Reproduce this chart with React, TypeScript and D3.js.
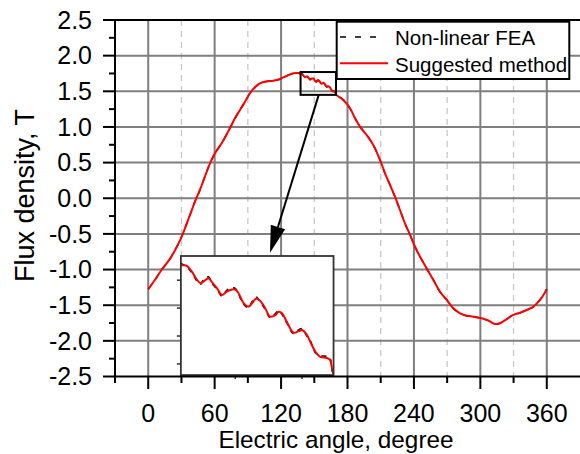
import React from "react";
import * as d3 from "d3";

// electric angle, degree
const angles = [
  0, 6, 12, 19.6, 24, 28.6, 33.2, 37.7, 42.2, 46.7, 51.2, 55.8, 60.3, 66.3, 73.8, 78.3, 82.9, 87.4, 91.9, 96.4,
  100.9, 107, 113, 119, 125, 131, 135.5,
  137.8, 138.9, 139.9, 141, 141.7, 142.3, 143.4, 144.1, 145.2, 146.2, 147.2, 148.3, 149, 149.7, 150.7, 151.8,
  152.5, 153.4, 154.2, 155.3, 156.3, 157.4, 158.1, 158.8, 159.8, 161.2, 162.3, 163, 164, 164.7, 165.8, 166.8,
  168.2, 168.9, 169.6,
  176.2, 182.3, 186.8, 191.3, 197.3, 203.3, 209.4, 213.9, 218.4, 222.9, 227.4, 231.9, 236.5, 241, 245.5, 251.5,
  257.5, 263.6, 269.6, 275.6, 281.7, 287.7, 293.7, 301.2, 307.2, 313.3, 317.8, 323.8, 329.8, 335.9, 341.9, 347.9,
  353.9, 360,
];

// flux density, T
const suggested = [
  -1.277, -1.147, -1.006, -0.85, -0.735, -0.595, -0.422, -0.235, -0.048, 0.116, 0.303, 0.49, 0.63, 0.771, 0.981,
  1.121, 1.238, 1.354, 1.472, 1.556, 1.612, 1.64, 1.649, 1.673, 1.715, 1.752, 1.757,
  1.746, 1.743, 1.728, 1.706, 1.697, 1.701, 1.71, 1.7, 1.683, 1.665, 1.674, 1.68, 1.68, 1.67, 1.644, 1.634, 1.643,
  1.656, 1.65, 1.629, 1.607, 1.611, 1.62, 1.616, 1.593, 1.564, 1.568, 1.571, 1.558, 1.54, 1.513, 1.499, 1.496,
  1.49, 1.455,
  1.378, 1.262, 1.121, 1.004, 0.887, 0.747, 0.536, 0.35, 0.186, 0.022, -0.165, -0.352, -0.515, -0.68, -0.82,
  -0.983, -1.147, -1.311, -1.427, -1.544, -1.614, -1.647, -1.661, -1.684, -1.717, -1.764, -1.754, -1.694, -1.637,
  -1.605, -1.567, -1.521, -1.427, -1.28,
];

const fea = [
  -1.272, -1.15, -1.003, -0.853, -0.731, -0.599, -0.418, -0.238, -0.044, 0.112, 0.307, 0.486, 0.634, 0.768, 0.985,
  1.117, 1.242, 1.35, 1.476, 1.552, 1.615, 1.637, 1.652, 1.67, 1.718, 1.749, 1.76,
  1.749, 1.74, 1.725, 1.702, 1.694, 1.705, 1.714, 1.697, 1.68, 1.662, 1.678, 1.684, 1.683, 1.667, 1.641, 1.631,
  1.647, 1.66, 1.647, 1.626, 1.604, 1.615, 1.624, 1.613, 1.59, 1.561, 1.572, 1.575, 1.555, 1.543, 1.51, 1.502,
  1.5, 1.494, 1.452,
  1.382, 1.258, 1.125, 1.0, 0.891, 0.743, 0.54, 0.346, 0.19, 0.018, -0.161, -0.356, -0.511, -0.684, -0.816,
  -0.987, -1.143, -1.315, -1.423, -1.548, -1.61, -1.651, -1.657, -1.688, -1.713, -1.768, -1.75, -1.698, -1.633,
  -1.609, -1.563, -1.525, -1.423, -1.276,
];

const xTicks = [0, 60, 120, 180, 240, 300, 360];
const xMinor = [-30, 30, 90, 150, 210, 270, 330];
const yTicks = [-2.5, -2.0, -1.5, -1.0, -0.5, 0.0, 0.5, 1.0, 1.5, 2.0, 2.5];
const yMinor = [-2.25, -1.75, -1.25, -0.75, -0.25, 0.25, 0.75, 1.25, 1.75, 2.25];

// zoom window (data units) and inset ticks
const zoomX = [137.6, 169.6];
const zoomY = [1.45, 1.77];
const insetXTicks = [149, 163];
const insetYTicks = [1.48, 1.555, 1.63, 1.705];

const W = 580;
const H = 454;
const font = "'Liberation Sans', Arial, Helvetica, sans-serif";

const App = () => {
  const x = d3.scaleLinear().domain([-30, 390]).range([115, 580]);
  const y = d3.scaleLinear().domain([-2.5, 2.5]).range([376.5, 20]);

  const pts = (vals: number[]) => angles.map((a, i) => [a, vals[i]] as [number, number]);

  const line = d3
    .line<[number, number]>()
    .x((d) => x(d[0]))
    .y((d) => y(d[1]))
    .curve(d3.curveCatmullRom.alpha(0.5));

  // inset placement
  const ix0 = x(29.5), ix1 = x(167.4);
  const iy0 = y(-0.81), iy1 = y(-2.48);
  const ixs = d3.scaleLinear().domain(zoomX).range([ix0, ix1]);
  const iys = d3.scaleLinear().domain(zoomY).range([iy1, iy0]);
  const iline = d3
    .line<[number, number]>()
    .x((d) => ixs(d[0]))
    .y((d) => iys(d[1]))
    .curve(d3.curveCatmullRom.alpha(0.5));

  // arrow from zoom box to inset
  const ax0 = x(154), ay0 = y(1.45);
  const ax1 = x(110), ay1 = y(-0.765);
  const ang = Math.atan2(ay1 - ay0, ax1 - ax0);
  const hl = 27, hw = 7.5;
  const bx = ax1 - hl * Math.cos(ang), by = ay1 - hl * Math.sin(ang);
  const head = [
    [ax1, ay1],
    [bx + hw * Math.sin(ang), by - hw * Math.cos(ang)],
    [bx - hw * Math.sin(ang), by + hw * Math.cos(ang)],
  ].map((p) => p.join(",")).join(" ");

  return (
    <svg width={W} height={H} style={{ position: "absolute", left: 0, top: 0, background: "#fff" }} fontFamily={font}>
      <defs>
        <clipPath id="plotClip">
          <rect x={115} y={20} width={465} height={356.5} />
        </clipPath>
        <clipPath id="insetClip">
          <rect x={ix0} y={iy0} width={ix1 - ix0} height={iy1 - iy0} />
        </clipPath>
      </defs>

      {/* grid */}
      {xMinor.filter((v) => v > -30).map((v) => (
        <line key={`gm${v}`} x1={x(v)} x2={x(v)} y1={20} y2={376.5} stroke="#c8c8c8" strokeWidth={1.3} strokeDasharray="6,5" />
      ))}
      {xTicks.map((v) => (
        <line key={`gx${v}`} x1={x(v)} x2={x(v)} y1={20} y2={376.5} stroke="#7f7f7f" strokeWidth={2} />
      ))}
      {yTicks.filter((v) => v > -2.5 && v < 2.5).map((v) => (
        <line key={`gy${v}`} x1={115} x2={580} y1={y(v)} y2={y(v)} stroke="#7f7f7f" strokeWidth={2} />
      ))}

      {/* curves */}
      <g clipPath="url(#plotClip)">
        <path d={line(pts(fea)) || ""} fill="none" stroke="#000" strokeWidth={1.5} strokeDasharray="6,6" />
        <path d={line(pts(suggested)) || ""} fill="none" stroke="#ff0000" strokeWidth={2} />
      </g>

      {/* zoom box */}
      <rect x={x(zoomX[0])} y={y(zoomY[1])} width={x(zoomX[1]) - x(zoomX[0])} height={y(zoomY[0]) - y(zoomY[1])}
        fill="none" stroke="#000" strokeWidth={2} />

      {/* arrow */}
      <line x1={ax0} y1={ay0} x2={bx} y2={by} stroke="#000" strokeWidth={2} />
      <polygon points={head} fill="#000" />

      {/* inset */}
      <rect x={ix0} y={iy0} width={ix1 - ix0} height={iy1 - iy0} fill="#fff" />
      <g clipPath="url(#insetClip)">
        <path d={iline(pts(fea)) || ""} fill="none" stroke="#000" strokeWidth={1.5} strokeDasharray="5,5" />
        <path d={iline(pts(suggested)) || ""} fill="none" stroke="#ff0000" strokeWidth={2} />
      </g>
      {insetYTicks.map((v) => (
        <line key={`iy${v}`} x1={ix0 - 4} x2={ix0} y1={iys(v)} y2={iys(v)} stroke="#333" strokeWidth={1.5} />
      ))}
      {insetXTicks.map((v) => (
        <line key={`ix${v}`} x1={ixs(v)} x2={ixs(v)} y1={iy1} y2={iy1 + 4} stroke="#333" strokeWidth={1.5} />
      ))}
      <rect x={ix0} y={iy0} width={ix1 - ix0} height={iy1 - iy0} fill="none" stroke="#333" strokeWidth={1.8} />

      {/* axes frame */}
      <line x1={115} x2={580} y1={20} y2={20} stroke="#000" strokeWidth={2} />
      <line x1={115} x2={580} y1={376.5} y2={376.5} stroke="#000" strokeWidth={2} />
      <line x1={115} x2={115} y1={19} y2={377.5} stroke="#000" strokeWidth={2} />

      {/* y ticks */}
      {yTicks.map((v) => (
        <g key={`yt${v}`}>
          <line x1={103} x2={115} y1={y(v)} y2={y(v)} stroke="#000" strokeWidth={2} />
          <text x={92} y={y(v)} dy="0.35em" textAnchor="end" fontSize={25} fill="#000">
            {v.toFixed(1)}
          </text>
        </g>
      ))}
      {yMinor.map((v) => (
        <line key={`ym${v}`} x1={109} x2={115} y1={y(v)} y2={y(v)} stroke="#000" strokeWidth={2} />
      ))}

      {/* x ticks */}
      {xTicks.map((v) => (
        <g key={`xt${v}`}>
          <line x1={x(v)} x2={x(v)} y1={376.5} y2={389} stroke="#000" strokeWidth={2} />
          <text x={x(v)} y={422} textAnchor="middle" fontSize={25} fill="#000">
            {v}
          </text>
        </g>
      ))}
      {xMinor.map((v) => (
        <line key={`xm${v}`} x1={x(v)} x2={x(v)} y1={376.5} y2={383} stroke="#000" strokeWidth={2} />
      ))}

      {/* titles */}
      <text x={336} y={448} textAnchor="middle" fontSize={24.3} fill="#000">
        Electric angle, degree
      </text>
      <text transform="translate(34,195.5) rotate(-90)" textAnchor="middle" fontSize={27} fill="#000">
        Flux density, T
      </text>

      {/* legend */}
      <rect x={336.7} y={21.7} width={232.6} height={57.3} fill="#fff" stroke="#000" strokeWidth={2} />
      <line x1={340} x2={385} y1={37} y2={37} stroke="#000" strokeWidth={1.5} strokeDasharray="6,9" />
      <text x={395} y={45} fontSize={20.5} fill="#000">Non-linear FEA</text>
      <line x1={340} x2={388} y1={63.3} y2={63.3} stroke="#ff0000" strokeWidth={2} />
      <text x={395} y={71.5} fontSize={20.5} fill="#000">Suggested method</text>
    </svg>
  );
};

export default App;
